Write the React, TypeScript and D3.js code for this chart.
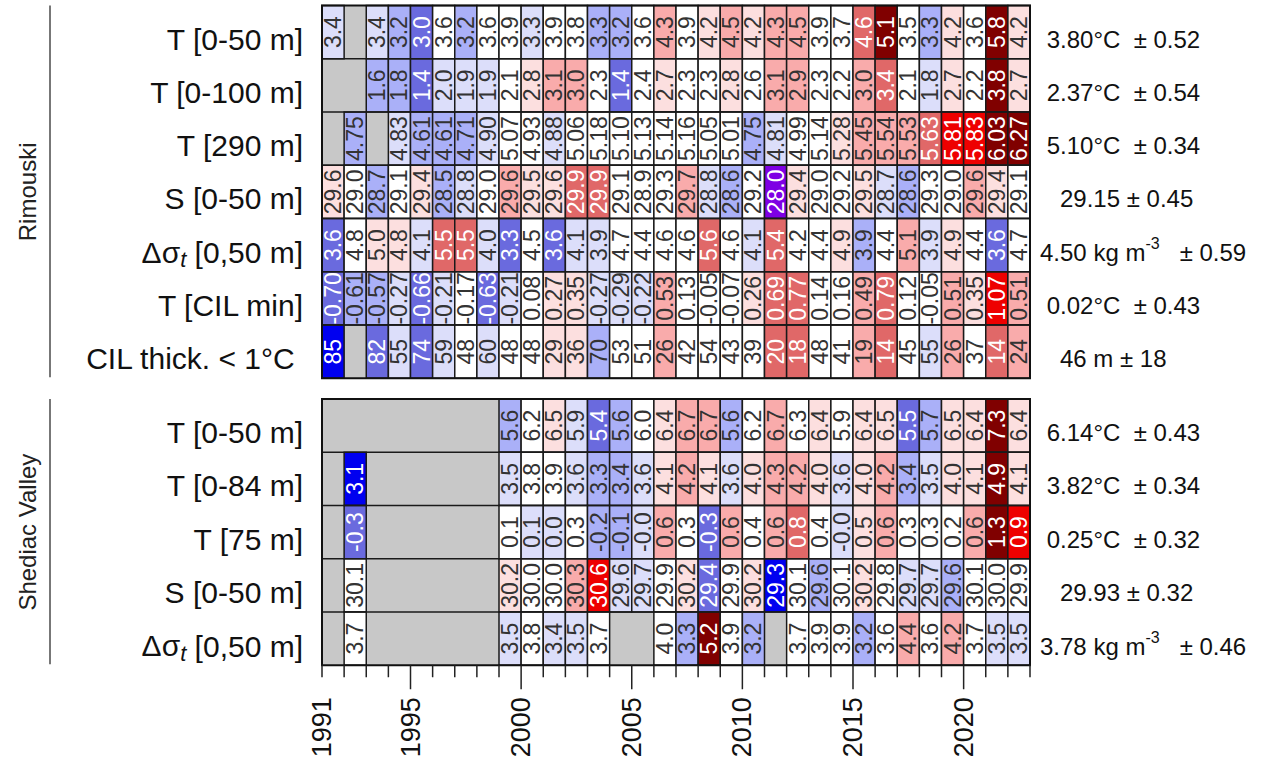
import React from "react";
import * as d3 from "d3";

// ---------------- DATA ----------------
const years = [
  1991, 1992, 1993, 1994, 1995, 1996, 1997, 1998, 1999, 2000, 2001, 2002, 2003, 2004, 2005, 2006,
  2007, 2008, 2009, 2010, 2011, 2012, 2013, 2014, 2015, 2016, 2017, 2018, 2019, 2020, 2021, 2022,
];
const tickYears = [
  1991, 1992, 1993, 1994, 1995, 1996, 1997, 1998, 1999, 2000, 2001, 2002, 2003, 2004, 2005, 2006,
  2007, 2008, 2009, 2010, 2011, 2012, 2013, 2014, 2015, 2016, 2017, 2018, 2019, 2020, 2021, 2022, 2023,
];
const labelledYears = [1991, 1995, 2000, 2005, 2010, 2015, 2020];

// Rimouski
const rimT050 = [3.4, null, 3.4, 3.2, 3.0, 3.6, 3.2, 3.6, 3.9, 3.3, 3.9, 3.8, 3.27, 3.2, 3.6, 4.33, 3.9, 4.2, 4.5, 4.2, 4.33, 4.5, 3.9, 3.7, 4.6, 5.12, 3.549, 3.27, 4.2, 3.6, 5.8, 4.2];
const rimT0100 = [null, null, 1.6, 1.8, 1.4, 2.0, 1.9, 1.9, 2.11, 2.8, 3.1, 3.0, 2.3, 1.4, 2.4, 2.7, 2.3, 2.3, 2.8, 2.6, 3.1, 2.92, 2.3, 2.2, 3.0, 3.4, 2.11, 1.84, 2.7, 2.2, 3.8, 2.7];
const rimT290 = [null, 4.75, null, 4.83, 4.61, 4.61, 4.71, 4.90, 5.07, 4.93, 4.88, 5.06, 5.18, 5.10, 5.13, 5.14, 5.16, 5.05, 5.01, 4.75, 4.81, 4.99, 5.14, 5.28, 5.45, 5.54, 5.53, 5.63, 5.81, 5.83, 6.03, 6.27];
const rimS050 = [29.58, 29.0, 28.68, 29.1, 29.4, 28.5, 28.8, 29.0, 29.62, 29.5, 29.58, 29.9, 29.9, 29.1, 28.93, 29.3, 29.7, 28.8, 28.6, 29.2, 28.0, 29.4, 29.0, 29.2, 29.5, 28.72, 28.6, 29.3, 29.0, 29.62, 29.4, 29.1];
const rimStrat = [3.6, 4.78, 5.0, 4.82, 4.1, 5.5, 5.5, 4.0, 3.33, 4.5, 3.6, 4.1, 3.92, 4.7, 4.4, 4.6, 4.6, 5.6, 4.6, 4.1, 5.4, 4.22, 4.4, 4.9, 3.88, 4.4, 5.1, 3.92, 4.9, 4.4, 3.6, 4.7];
const rimCilMin = [-0.70, -0.61, -0.57, -0.27, -0.66, -0.21, -0.17, -0.63, -0.21, 0.08, 0.27, 0.35, -0.27, -0.29, -0.22, 0.53, 0.13, -0.05, -0.07, 0.26, 0.69, 0.77, 0.14, 0.16, 0.49, 0.79, 0.12, -0.05, 0.51, 0.35, 1.07, 0.51];
const rimCilThick = [85, null, 81.9, 55.2, 74, 59, 48, 60, 48, 48, 29, 36, 70, 53, 51, 26, 42, 54, 43, 39, 20, 18, 48, 41, 19.2, 14, 45, 55.2, 26, 37.2, 14, 24];

// Shediac Valley
const shdT050 = [null, null, null, null, null, null, null, null, 5.6, 6.2, 6.5, 5.9, 5.4, 5.6, 6.0, 6.4, 6.7, 6.7, 5.6, 6.2, 6.7, 6.3, 6.4, 5.93, 6.4, 6.5, 5.49, 5.7, 6.5, 6.4, 7.3, 6.4];
const shdT084 = [null, 3.1, null, null, null, null, null, null, 3.5, 3.8, 3.9, 3.6, 3.32, 3.4, 3.6, 4.1, 4.2, 4.1, 3.6, 4.0, 4.3, 4.2, 4.0, 3.6, 4.0, 4.2, 3.4, 3.5, 4.0, 4.1, 4.9, 4.1];
const shdT75 = [null, -0.3, null, null, null, null, null, null, 0.1, 0.08, 0.0, 0.3, -0.2, -0.1, -0.02, 0.6, 0.3, -0.3, 0.6, 0.4, 0.6, 0.8, 0.4, -0.02, 0.5, 0.6, 0.3, 0.3, 0.2, 0.6, 1.3, 0.9];
const shdS050 = [null, 30.08, null, null, null, null, null, null, 30.2, 30.0, 30.0, 30.3, 30.6, 29.62, 29.7, 29.9, 30.2, 29.4, 29.9, 30.2, 29.28, 30.08, 29.58, 30.08, 30.2, 29.8, 29.7, 29.7, 29.58, 30.08, 30.0, 29.9];
const shdStrat = [null, 3.7, null, null, null, null, null, null, 3.5, 3.8, 3.4, 3.5, 3.7, null, null, 4.0, 3.3, 5.2, 3.9, 3.2, null, 3.7, 3.9, 3.9, 3.2, 3.6, 4.4, 3.6, 4.244, 3.7, 3.5, 3.5];

// Row labels, climatologies (mean, sd) and climatology texts
const rimLabels = ["T [0-50 m]", "T [0-100 m]", "T [290 m]", "S [0-50 m]", "STRAT", "T [CIL min]", "CIL thick. < 1°C "];
const rimMeans = [3.80, 2.37, 5.10, 29.15, 4.50, 0.02, 46];
const rimSds = [0.52, 0.54, 0.34, 0.45, 0.59, 0.43, 18];
const rimDecimals = [1, 1, 2, 1, 1, 2, 0];
const rimReversed = [false, false, false, false, false, false, true];
const rimClimTexts = [" 3.80°C  ± 0.52", " 2.37°C  ± 0.54", " 5.10°C  ± 0.34", "   29.15 ± 0.45", "4.50 kg m|-3|   ± 0.59", " 0.02°C  ± 0.43", "   46 m ± 18"];

const shdLabels = ["T [0-50 m]", "T [0-84 m]", "T [75 m]", "S [0-50 m]", "STRAT"];
const shdMeans = [6.14, 3.82, 0.25, 29.93, 3.78];
const shdSds = [0.43, 0.34, 0.32, 0.32, 0.46];
const shdDecimals = [1, 1, 1, 1, 1];
const shdReversed = [false, false, false, false, false];
const shdClimTexts = [" 6.14°C  ± 0.43", " 3.82°C  ± 0.34", " 0.25°C  ± 0.32", "   29.93 ± 0.32", "3.78 kg m|-3|   ± 0.46"];

// colour class forced for one cell (original colouring)
const anomalyOverrides = [{ station: "Rimouski", row: 6, year: 2011, z: 1.6 }];

// colour scale of normalised anomalies
const anomalyBreaks = [-2.5, -2, -1.5, -1, -0.5, 0.5, 1, 1.5, 2, 2.5];
const anomalyColours = ["#7e00e4", "#0000f0", "#6a6ade", "#aab0f8", "#dcdefa", "#ffffff", "#fcdfdf", "#f9abab", "#e06868", "#ee0000", "#800000"];
const darkClasses = ["#7e00e4", "#0000f0", "#6a6ade", "#e06868", "#ee0000", "#800000"];

// ---------------- LAYOUT ----------------
const W = 1261;
const H = 765;
const X0 = 322;
const X1 = 1030;
const ROW_H = 53.25;
const FONT = "'Liberation Sans', Arial, Helvetica, sans-serif";

const stations = [
  {
    name: "Rimouski",
    top: 5.5,
    series: [rimT050, rimT0100, rimT290, rimS050, rimStrat, rimCilMin, rimCilThick],
    labels: rimLabels, means: rimMeans, sds: rimSds, decimals: rimDecimals, reversed: rimReversed, clim: rimClimTexts,
  },
  {
    name: "Shediac Valley",
    top: 399,
    series: [shdT050, shdT084, shdT75, shdS050, shdStrat],
    labels: shdLabels, means: shdMeans, sds: shdSds, decimals: shdDecimals, reversed: shdReversed, clim: shdClimTexts,
  },
];

function RowLabel({ label, x, y }: { label: string; x: number; y: number }) {
  if (label === "STRAT") {
    return (
      <text x={x} y={y} textAnchor="end" fontSize={30} fill="#111" dominantBaseline="central">
        Δσ
        <tspan fontStyle="italic" fontSize={22} dy={7}>t</tspan>
        <tspan dy={-7} xmlSpace="preserve"> [0,50 m]</tspan>
      </text>
    );
  }
  return (
    <text x={x} y={y} textAnchor="end" fontSize={30} fill="#111" dominantBaseline="central" style={{ whiteSpace: "pre" }} xmlSpace="preserve">
      {label}
    </text>
  );
}

function ClimText({ text, x, y }: { text: string; x: number; y: number }) {
  const parts = text.split("|");
  return (
    <text x={x} y={y} fontSize={24} fill="#111" dominantBaseline="central" style={{ whiteSpace: "pre" }} xmlSpace="preserve">
      {parts.length === 1 ? (
        parts[0]
      ) : (
        <>
          <tspan>{parts[0]}</tspan>
          <tspan fontSize={16} dy={-9}>{parts[1]}</tspan>
          <tspan dy={9}>{parts[2]}</tspan>
        </>
      )}
    </text>
  );
}

export default function App() {
  const x = d3.scaleLinear().domain([1991, 2023]).range([X0, X1]);
  const colour = d3.scaleThreshold<number, string>().domain(anomalyBreaks).range(anomalyColours);

  const lastBottom = stations[stations.length - 1].top + stations[stations.length - 1].series.length * ROW_H;

  return (
    <svg
      width={W}
      height={H}
      style={{ position: "absolute", left: 0, top: 0, background: "#fff" }}
      fontFamily={FONT}
    >
      {stations.map((st) => {
        const nRows = st.series.length;
        const bottom = st.top + nRows * ROW_H;
        const y = d3.scaleBand<number>().domain(d3.range(nRows)).range([st.top, bottom]).padding(0);
        return (
          <g key={st.name}>
            <line x1={50} x2={50} y1={st.top} y2={bottom - 1} stroke="#777" strokeWidth={2} />
            <text
              transform={`translate(27,${(st.top + bottom) / 2}) rotate(-90)`}
              textAnchor="middle"
              dominantBaseline="central"
              fontSize={24}
              fill="#222"
            >
              {st.name}
            </text>

            <rect x={X0} y={st.top} width={X1 - X0} height={bottom - st.top} fill="#c8c8c8" />

            {st.series.map((vals, ri) => {
              const yy = y(ri)!;
              const cy = yy + ROW_H / 2;
              return (
                <g key={ri}>
                  {vals.map((v, ci) => {
                    if (v === null || v === undefined) return null;
                    const yr = years[ci];
                    let z = (v - st.means[ri]) / st.sds[ri];
                    if (st.reversed[ri]) z = -z;
                    const ov = anomalyOverrides.find((o) => o.station === st.name && o.row === ri && o.year === yr);
                    if (ov) z = ov.z;
                    const fill = colour(z);
                    const txtFill = darkClasses.includes(fill) ? "#ffffff" : "#333333";
                    const x0 = x(yr);
                    const x1 = x(yr + 1);
                    return (
                      <g key={ci}>
                        <rect x={x0} y={yy} width={x1 - x0} height={ROW_H} fill={fill} stroke="#1a1a1a" strokeWidth={1.5} />
                        <text
                          transform={`translate(${(x0 + x1) / 2},${cy}) rotate(-90)`}
                          textAnchor="middle"
                          dominantBaseline="central"
                          fontSize={23}
                          fill={txtFill}
                        >
                          {v.toFixed(st.decimals[ri])}
                        </text>
                      </g>
                    );
                  })}
                  {ri > 0 && <line x1={X0} x2={X1} y1={yy} y2={yy} stroke="#1a1a1a" strokeWidth={1.5} />}
                  <RowLabel label={st.labels[ri]} x={303} y={cy + 7} />
                  <ClimText text={st.clim[ri]} x={1040} y={cy + 7} />
                </g>
              );
            })}
            <rect x={X0} y={st.top} width={X1 - X0} height={bottom - st.top} fill="none" stroke="#111" strokeWidth={2} />
          </g>
        );
      })}

      <g>
        {tickYears.map((yr) => {
          const major = labelledYears.includes(yr) && yr !== 1991;
          return (
            <line key={yr} x1={x(yr)} x2={x(yr)} y1={lastBottom} y2={lastBottom + (major ? 24 : 12)} stroke="#222" strokeWidth={1.5} />
          );
        })}
        {labelledYears.map((yr) => (
          <text
            key={yr}
            transform={`translate(${x(yr)},${lastBottom + 32}) rotate(-90)`}
            textAnchor="end"
            dominantBaseline="central"
            fontSize={27}
            fill="#111"
          >
            {yr}
          </text>
        ))}
      </g>
    </svg>
  );
}
